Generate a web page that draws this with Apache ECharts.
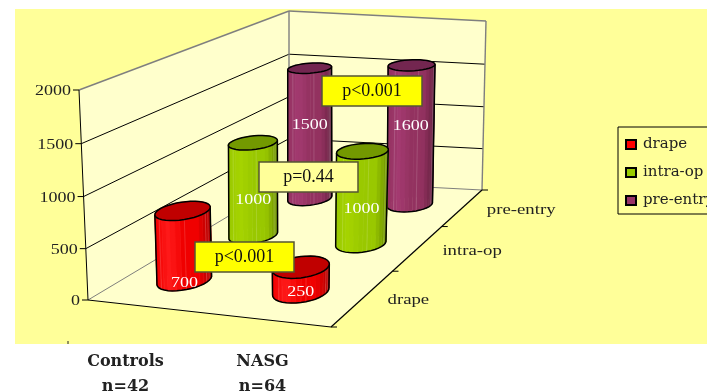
<!DOCTYPE html>
<html>
<head>
<meta charset="utf-8">
<style>html,body{margin:0;padding:0;background:#fff;overflow:hidden}#chart{width:707px;height:392px}</style>
<script src="https://cdn.jsdelivr.net/npm/echarts@6/dist/echarts.min.js"></script>
</head>
<body>
<div id="chart"></div>
<script>
// data
const groupNames = ['Controls', 'NASG'];
const groupCounts = ['n=42', 'n=64'];
const seriesNames = ['drape', 'intra-op', 'pre-entry'];
const drapeValues = [700, 250];
const intraOpValues = [1000, 1000];
const preEntryValues = [1500, 1600];
const valueTicks = [0, 500, 1000, 1500, 2000];
const pValues = ['p<0.001', 'p=0.44', 'p<0.001'];

const VALUE_MAX = 2000;
const SERIF = '"Liberation Serif", serif';
const WIDE_SERIF = '"DejaVu Serif", serif';

// box corners on the page plane: front-left, front-right, back-right, back-left
const floorQuad = [[88, 300], [331, 327], [482, 190], [289, 180]];
const topQuad = [[79, 90], [336, 122], [486, 21], [289, 11]];

const seriesStyles = [
  { light: '#ff1a1a', mid: '#f00000', dark: '#b00000', top: '#c00000', swatch: '#ff0000', labelAt: -0.05 },
  { light: '#a6d400', mid: '#99c800', dark: '#6c8f00', top: '#739900', swatch: '#99cc00', labelAt: 0.38 },
  { light: '#a33a70', mid: '#933260', dark: '#64203f', top: '#732650', swatch: '#993366', labelAt: 0.57 },
];

const homography = (q) => {
  const [[x0, y0], [x1, y1], [x2, y2], [x3, y3]] = q;
  const dx1 = x1 - x2, dx2 = x3 - x2, sx = x0 - x1 + x2 - x3;
  const dy1 = y1 - y2, dy2 = y3 - y2, sy = y0 - y1 + y2 - y3;
  const den = dx1 * dy2 - dx2 * dy1;
  const g = (sx * dy2 - dx2 * sy) / den;
  const h = (dx1 * sy - sx * dy1) / den;
  const a = x1 - x0 + g * x1, b = x3 - x0 + h * x3;
  const d = y1 - y0 + g * y1, e = y3 - y0 + h * y3;
  return (u, v) => {
    const w = g * u + h * v + 1;
    return [(a * u + b * v + x0) / w, (d * u + e * v + y0) / w];
  };
};
const floorMap = homography(floorQuad);
const topMap = homography(topQuad);

// u across, v into the page, value up; result still needs api.coord
const project = (u, v, value) => {
  const f = floorMap(u, v), t = topMap(u, v);
  const r = value / VALUE_MAX;
  const k = r / (1 + 0.03 * (1 - r)); // ticks open up a little towards the top
  return [f[0] + (t[0] - f[0]) * k, f[1] + (t[1] - f[1]) * k];
};

const RING = 36;
const R_U = 0.1;
const R_V = 0.07;

const renderCylinder = (seriesIdx) => (params, api) => {
  const groupIdx = api.value(0);
  const value = api.value(1);
  const style = seriesStyles[seriesIdx];
  const cu = (groupIdx + 0.5) / groupNames.length;
  const cv = (seriesIdx + 0.5) / seriesNames.length;

  const base = [], cap = [];
  for (let i = 0; i < RING; i++) {
    const t = (i / RING) * Math.PI * 2;
    const u = cu + R_U * Math.cos(t), v = cv + R_V * Math.sin(t);
    base.push(api.coord(project(u, v, 0)));
    cap.push(api.coord(project(u, v, value)));
  }

  let iL = 0, iR = 0;
  base.forEach((p, i) => {
    if (p[0] < base[iL][0]) iL = i;
    if (p[0] > base[iR][0]) iR = i;
  });
  const minX = base[iL][0], maxX = base[iR][0];

  // side wall, back to front
  const quads = [];
  for (let i = 0; i < RING; i++) {
    const j = (i + 1) % RING;
    quads.push({ pts: [base[i], base[j], cap[j], cap[i]], y: base[i][1] + base[j][1], x: (base[i][0] + base[j][0]) / 2, i });
  }
  quads.sort((a, b) => a.y - b.y);
  const children = quads.map((q) => {
    const s = (q.x - minX) / (maxX - minX);
    const color = echarts.color.lerp(s, [style.mid, style.light, style.mid, style.mid, style.dark]);
    const stripe = q.i % 5 === 0;
    return {
      type: 'polygon',
      shape: { points: q.pts },
      style: { fill: color, stroke: stripe ? echarts.color.lift(color, 0.25) : color, lineWidth: stripe ? 0.6 : 0.8 },
    };
  });

  // silhouette: the two sides and the lower half of the base
  const walk = (step) => {
    const out = [];
    for (let i = iL; ; i = (i + step + RING) % RING) {
      out.push(base[i]);
      if (i === iR) break;
    }
    return out;
  };
  const a = walk(1), b = walk(-1);
  const meanY = (l) => l.reduce((sum, p) => sum + p[1], 0) / l.length;
  const front = meanY(a) > meanY(b) ? a : b;
  children.push({
    type: 'polyline',
    shape: { points: [cap[iL]].concat(front, [cap[iR]]) },
    style: { fill: 'none', stroke: '#000', lineWidth: 1.5 },
  });
  children.push({
    type: 'polygon',
    shape: { points: cap },
    style: { fill: style.top, stroke: '#000', lineWidth: 1.5 },
  });

  const labelPos = api.coord(project(cu, cv, value * style.labelAt));
  children.push({
    type: 'text',
    x: labelPos[0],
    y: labelPos[1],
    scaleX: 1.2,
    style: { text: String(value), font: '15px ' + SERIF, fill: '#fff', align: 'center', verticalAlign: 'middle' },
  });
  return { type: 'group', children };
};

const renderFrame = (params, api) => {
  const pt = (u, v, val) => api.coord(project(u, v, val));
  const line = (p, q, color, width) => ({
    type: 'line',
    shape: { x1: p[0], y1: p[1], x2: q[0], y2: q[1] },
    style: { stroke: color, lineWidth: width || 1 },
  });
  const GREY = '#7f7f7f';
  const children = [
    { type: 'polygon', shape: { points: [pt(0, 0, 0), pt(1, 0, 0), pt(1, 1, 0), pt(0, 1, 0)] }, style: { fill: '#ffffcc' } },
    { type: 'polygon', shape: { points: [pt(0, 0, 0), pt(0, 1, 0), pt(0, 1, VALUE_MAX), pt(0, 0, VALUE_MAX)] }, style: { fill: '#ffffcc' } },
    { type: 'polygon', shape: { points: [pt(0, 1, 0), pt(1, 1, 0), pt(1, 1, VALUE_MAX), pt(0, 1, VALUE_MAX)] }, style: { fill: '#ffffcc' } },
  ];
  valueTicks.forEach((tick) => {
    const top = tick === VALUE_MAX, zero = tick === 0;
    const color = top || zero ? GREY : '#000';
    children.push(line(pt(0, 0, tick), pt(0, 1, tick), color, top ? 1.4 : 1));
    children.push(line(pt(0, 1, tick), pt(1, 1, tick), color, top ? 1.4 : 1));
    const p = pt(0, 0, tick);
    children.push(line([p[0] - 6, p[1]], p, '#000'));
    children.push({
      type: 'text',
      x: p[0] - 8,
      y: p[1] + 1.5,
      scaleX: 1.2,
      style: { text: String(tick), font: '15px ' + SERIF, fill: '#222', align: 'right', verticalAlign: 'middle' },
    });
  });
  children.push(line(pt(0, 1, 0), pt(0, 1, VALUE_MAX), GREY, 1.4));
  children.push(line(pt(1, 1, 0), pt(1, 1, VALUE_MAX), GREY, 1.4));
  children.push(line(pt(0, 0, 0), pt(0, 0, VALUE_MAX), '#000', 1));
  children.push(line(pt(0, 0, 0), pt(1, 0, 0), '#000', 1));
  children.push(line(pt(1, 0, 0), pt(1, 1, 0), '#000', 1.2));
  for (let i = 0; i <= seriesNames.length; i++) {
    const p = pt(1, i / seriesNames.length, 0);
    children.push(line(p, [p[0] + 6, p[1]], '#000'));
  }
  seriesNames.forEach((name, i) => {
    const p = pt(1, (i + 0.5) / seriesNames.length, 0);
    children.push({
      type: 'text',
      x: p[0] + 24,
      y: p[1] + 3,
      scaleX: 1.25,
      style: { text: name, font: '15px ' + SERIF, fill: '#222', align: 'left', verticalAlign: 'middle' },
    });
  });
  return { type: 'group', children };
};

const valueRows = [drapeValues, intraOpValues, preEntryValues];

// z has to sit on the children, the group's own z does nothing for them
const pBox = (text, x, y, w, h, fill) => ({
  type: 'group',
  x,
  y,
  children: [
    { type: 'rect', z: 100, shape: { x: 0, y: 0, width: w, height: h }, style: { fill, stroke: '#555533', lineWidth: 1.5 } },
    { type: 'text', z: 101, x: w / 2, y: h / 2, style: { text, font: '18px ' + SERIF, fill: '#111', align: 'center', verticalAlign: 'middle' } },
  ],
});

const chart = echarts.init(document.getElementById('chart'), null, { renderer: 'canvas' });

chart.setOption({
  animation: false,
  backgroundColor: '#fff',
  grid: [
    { left: 15, top: 9, right: 0, bottom: 48, show: true, backgroundColor: '#ffff99', borderWidth: 0 },
    { left: 57, top: 346, width: 274, height: 1 },
  ],
  xAxis: [
    { type: 'value', gridIndex: 0, min: 15, max: 707, show: false },
    {
      type: 'category',
      gridIndex: 1,
      data: groupNames.map((name, i) => name + '\n' + groupCounts[i]),
      axisLine: { show: false },
      axisTick: { show: false },
      axisLabel: { margin: 3, color: '#222', fontFamily: WIDE_SERIF, fontWeight: 'bold', fontSize: 16, lineHeight: 25 },
    },
  ],
  yAxis: [
    { type: 'value', gridIndex: 0, min: 9, max: 344, inverse: true, show: false },
    { type: 'value', gridIndex: 1, show: false },
  ],
  legend: {
    orient: 'vertical',
    left: 618,
    top: 127,
    data: seriesNames,
    icon: 'rect',
    itemWidth: 10,
    itemHeight: 9,
    itemGap: 13,
    padding: [10, 40, 6, 7],
    borderColor: '#000',
    borderWidth: 1,
    backgroundColor: '#ffff99',
    textStyle: { fontFamily: WIDE_SERIF, fontSize: 15, color: '#222', padding: [0, 0, 0, 2] },
  },
  series: [
    {
      type: 'custom',
      name: 'frame',
      xAxisIndex: 0,
      yAxisIndex: 0,
      z: 1,
      silent: true,
      clip: false,
      data: [[0, 0]],
      renderItem: renderFrame,
    },
  ].concat(seriesNames.map((name, s) => ({
    type: 'custom',
    name,
    xAxisIndex: 0,
    yAxisIndex: 0,
    z: 10 - s,
    clip: false,
    itemStyle: { color: seriesStyles[s].swatch, borderColor: '#000', borderWidth: 1 },
    data: valueRows[s].map((v, g) => [g, v]),
    encode: { x: 0, y: 1 },
    renderItem: renderCylinder(s),
  }))),
  graphic: [
    pBox(pValues[0], 195, 242, 99, 30, '#ffff00'),
    pBox(pValues[1], 259, 162, 99, 30, '#ffff99'),
    pBox(pValues[2], 322, 76, 100, 30, '#ffff00'),
    { type: 'line', z: 100, shape: { x1: 68, y1: 341, x2: 68, y2: 344 }, style: { stroke: '#222', lineWidth: 1 } },
  ],
});
</script>
</body>
</html>
